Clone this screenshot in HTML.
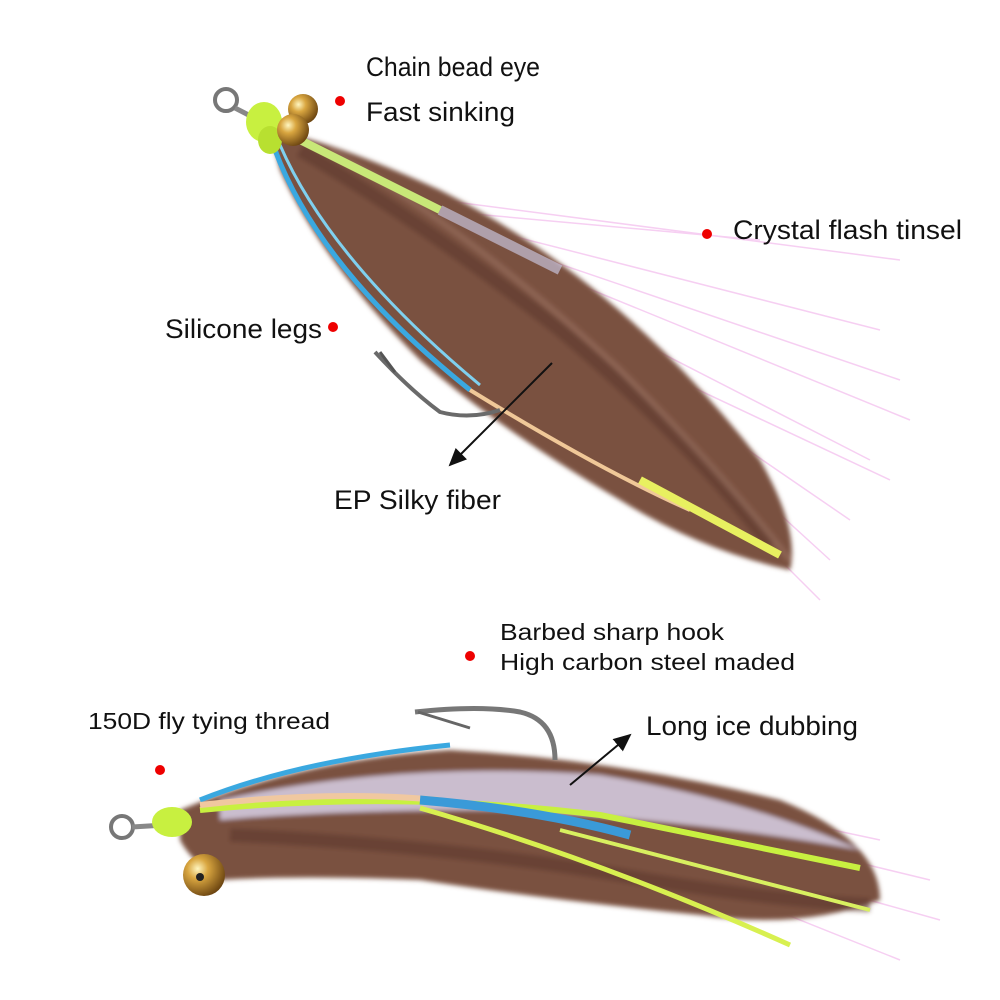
<!DOCTYPE html>
<html><head><meta charset="utf-8"><style>
html,body{margin:0;padding:0;background:#fff;width:1000px;height:1000px;overflow:hidden}
svg{display:block}
text{font-family:"Liberation Sans",sans-serif;fill:#111}
</style></head><body>
<svg width="1000" height="1000" viewBox="0 0 1000 1000" xmlns="http://www.w3.org/2000/svg">
<defs>
<radialGradient id="gold" cx="0.35" cy="0.35" r="0.7"><stop offset="0" stop-color="#fff6c0"/><stop offset="0.35" stop-color="#d9a640"/><stop offset="1" stop-color="#6b4410"/></radialGradient>
<marker id="ah" markerWidth="10" markerHeight="10" refX="8" refY="5" orient="auto"><path d="M0,1 L9,5 L0,9 z" fill="#111"/></marker>
<filter id="bl" x="-10%" y="-10%" width="120%" height="120%"><feGaussianBlur stdDeviation="2.5"/></filter>
</defs>
<rect width="1000" height="1000" fill="#fff"/>

<!-- TOP FLY -->
<g opacity="0.55" stroke="#f0a8e8" stroke-width="1.5" fill="none">
<path d="M440,200 L900,260"/><path d="M450,220 L880,330"/><path d="M470,240 L910,420"/><path d="M480,260 L870,460"/><path d="M500,280 L850,520"/><path d="M520,300 L820,600"/><path d="M430,210 L760,240"/><path d="M460,230 L900,380"/><path d="M600,350 L830,560"/><path d="M550,320 L890,480"/>
</g>
<g filter="url(#bl)">
<path d="M270,130 Q330,140 440,190 Q620,280 760,460 Q800,530 790,570 Q700,550 620,500 Q500,430 420,360 Q320,260 280,170 Z" fill="#7a5140"/>
<path d="M300,150 Q420,220 560,330 Q690,440 770,545" stroke="#5e3b2e" stroke-width="14" fill="none" opacity="0.6"/>
<path d="M330,150 Q470,230 620,370 Q720,470 790,560" stroke="#9a7260" stroke-width="6" fill="none" opacity="0.6"/>
</g>
<path d="M300,140 L440,210" stroke="#c8e878" stroke-width="8"/>
<path d="M440,210 L560,270" stroke="#c6c0d8" stroke-width="10" opacity="0.7"/>
<path d="M275,150 Q320,270 470,390" stroke="#3aa8e0" stroke-width="5" fill="none"/>
<path d="M280,145 Q330,260 480,385" stroke="#7fd0ef" stroke-width="3" fill="none"/>
<path d="M470,390 Q600,470 690,510" stroke="#f0c898" stroke-width="4" fill="none"/>
<path d="M640,480 L780,555" stroke="#e8f060" stroke-width="8"/>
<path d="M375,352 Q410,390 440,412 Q470,420 500,410" stroke="#6a6a6a" stroke-width="4" fill="none"/>
<path d="M380,352 L395,372" stroke="#555" stroke-width="3"/>
<circle cx="226" cy="100" r="11" fill="none" stroke="#777" stroke-width="4"/>
<path d="M235,108 Q255,118 275,130" stroke="#888" stroke-width="5"/>
<ellipse cx="264" cy="122" rx="18" ry="20" fill="#c8f040"/>
<ellipse cx="270" cy="140" rx="12" ry="14" fill="#b8e030"/>
<circle cx="303" cy="109" r="15" fill="url(#gold)"/>
<circle cx="293" cy="130" r="16" fill="url(#gold)"/>

<!-- BOTTOM FLY -->
<g opacity="0.55" stroke="#f0a8e8" stroke-width="1.5" fill="none">
<path d="M600,800 L930,880"/><path d="M620,830 L940,920"/><path d="M650,860 L900,960"/><path d="M600,780 L880,840"/>
</g>
<g filter="url(#bl)">
<path d="M180,810 Q300,760 450,750 Q620,760 780,800 Q880,840 880,900 Q800,930 700,915 Q550,900 420,880 Q300,875 220,880 Q190,860 180,840 Z" fill="#7a5140"/>
<path d="M220,800 Q400,760 600,775 Q750,800 860,850 Q700,820 500,810 Q330,810 220,820 Z" fill="#d8d0e8" opacity="0.85"/>
<path d="M230,835 Q450,845 650,880 Q770,900 870,905" stroke="#5e3b2e" stroke-width="14" fill="none" opacity="0.6"/>
</g>
<path d="M200,800 Q300,760 450,745" stroke="#3aa8e0" stroke-width="5" fill="none"/>
<path d="M200,810 Q400,790 600,815 L860,868" stroke="#c8f040" stroke-width="6" fill="none"/>
<path d="M200,805 Q330,790 440,800" stroke="#f0c8a0" stroke-width="6" fill="none"/>
<path d="M420,800 Q540,810 630,835" stroke="#3a9ad8" stroke-width="9" fill="none"/>
<path d="M420,808 Q600,860 790,945" stroke="#d8f050" stroke-width="5" fill="none"/>
<path d="M560,830 L870,910" stroke="#d8f060" stroke-width="4" fill="none"/>
<path d="M415,712 Q480,705 520,712 Q555,720 555,760" stroke="#777" stroke-width="5" fill="none"/>
<path d="M418,712 L470,728" stroke="#666" stroke-width="3"/>
<circle cx="122" cy="827" r="11" fill="none" stroke="#777" stroke-width="4"/>
<path d="M132,827 L165,825" stroke="#888" stroke-width="5"/>
<ellipse cx="172" cy="822" rx="20" ry="15" fill="#c8f040"/>
<circle cx="204" cy="875" r="21" fill="url(#gold)"/>
<circle cx="200" cy="877" r="4" fill="#222"/>

<!-- LABELS -->
<text x="366" y="76" font-size="27" textLength="174" lengthAdjust="spacingAndGlyphs">Chain bead eye</text>
<text x="366" y="121" font-size="27" textLength="149" lengthAdjust="spacingAndGlyphs">Fast sinking</text>
<circle cx="340" cy="101" r="5" fill="#e00"/>
<text x="733" y="239" font-size="27" textLength="229" lengthAdjust="spacingAndGlyphs">Crystal flash tinsel</text>
<circle cx="707" cy="234" r="5" fill="#e00"/>
<text x="165" y="338" font-size="27" textLength="157" lengthAdjust="spacingAndGlyphs">Silicone legs</text>
<circle cx="333" cy="327" r="5" fill="#e00"/>
<line x1="552" y1="363" x2="450" y2="465" stroke="#111" stroke-width="2" marker-end="url(#ah)"/>
<text x="334" y="509" font-size="27" textLength="167" lengthAdjust="spacingAndGlyphs">EP Silky fiber</text>
<text x="500" y="640" font-size="23" textLength="224" lengthAdjust="spacingAndGlyphs">Barbed sharp hook</text>
<text x="500" y="670" font-size="23" textLength="295" lengthAdjust="spacingAndGlyphs">High carbon steel maded</text>
<circle cx="470" cy="656" r="5" fill="#e00"/>
<text x="88" y="729" font-size="23" textLength="242" lengthAdjust="spacingAndGlyphs">150D fly tying thread</text>
<circle cx="160" cy="770" r="5" fill="#e00"/>
<text x="646" y="735" font-size="27" textLength="212" lengthAdjust="spacingAndGlyphs">Long ice dubbing</text>
<line x1="570" y1="785" x2="630" y2="735" stroke="#111" stroke-width="2" marker-end="url(#ah)"/>
</svg>
</body></html>
